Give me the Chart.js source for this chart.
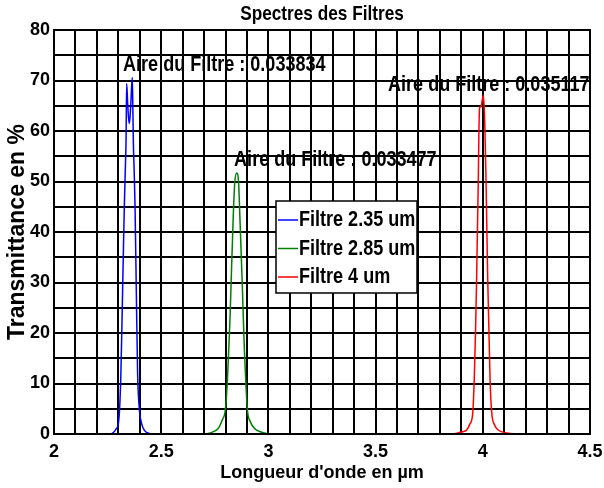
<!DOCTYPE html>
<html><head><meta charset="utf-8">
<script src="https://cdn.jsdelivr.net/npm/chart.js@4"></script>
<style>html,body{margin:0;padding:0;background:#fff}#wrap{width:604px;height:488px}</style>
</head><body><div id="wrap"><canvas id="c" width="604" height="488"></canvas></div>
<script>
const chartTitle = "Spectres des Filtres";
const xTitle = "Longueur d'onde en µm";
const yTitle = "Transmittance en %";
const seriesLabels = ["Filtre 2.35 um", "Filtre 2.85 um", "Filtre 4 um"];
const seriesColors = ["#0000ff", "#008000", "#ff0000"];

const blueX = [2.17, 2.26, 2.277, 2.290, 2.300, 2.306, 2.312, 2.318, 2.324, 2.328, 2.333, 2.336, 2.339, 2.343, 2.347, 2.351, 2.355, 2.359, 2.365, 2.368, 2.370, 2.374, 2.378, 2.384, 2.390, 2.398, 2.409, 2.422, 2.438, 2.46, 4.45];
const blueY = [0, 0, 0.3, 1, 2, 5, 12, 24, 37, 45, 53, 58, 69.4, 66, 63, 61.5, 63, 66, 70.6, 64, 58, 52, 45, 28, 12, 5, 2, 0.7, 0.2, 0, 0];

const greenX = [2.17, 2.70, 2.728, 2.755, 2.771, 2.785, 2.799, 2.808, 2.815, 2.821, 2.826, 2.836, 2.843, 2.852, 2.861, 2.867, 2.878, 2.883, 2.888, 2.895, 2.902, 2.915, 2.938, 2.965, 2.992, 3.02, 4.45];
const greenY = [0, 0, 0.2, 0.7, 1.4, 2.8, 4.75, 10, 16.6, 23, 29.8, 43, 49.7, 51.7, 49.7, 43, 29.8, 23, 16.6, 10, 4.75, 2.5, 1.0, 0.4, 0.1, 0, 0];

const redX = [2.17, 3.86, 3.884, 3.91, 3.925, 3.94, 3.953, 3.960, 3.966, 3.971, 3.979, 3.982, 3.985, 3.988, 3.992, 3.997, 4.002, 4.006, 4.010, 4.015, 4.023, 4.034, 4.042, 4.055, 4.072, 4.10, 4.127, 4.15, 4.45];
const redY = [0, 0, 0.2, 0.5, 0.8, 2, 4.1, 10.7, 20, 30.5, 50.3, 60.2, 64.5, 64.8, 64.8, 66, 67.1, 65, 60.2, 50.3, 30.5, 10.7, 4.1, 1.8, 0.8, 0.3, 0.1, 0, 0];

const annotX = [2.322, 2.84, 3.558];
const annotY = [73.1, 54.2, 69.1];
const annotText = ["Aire du Filtre : 0.033834", "Aire du Filtre : 0.033477", "Aire du Filtre : 0.035117"];

const xMin = 2, xMax = 4.5, xGridStep = 0.1, xLabelStep = 0.5;
const yMin = 0, yMax = 80, yGridStep = 5, yLabelStep = 10;

const FONT = "'Liberation Sans', Arial, sans-serif";
const COND = 0.82;

function pts(xs, ys) { return xs.map((v, i) => ({x: v, y: ys[i]})); }
function isMult(v, step) { const r = v / step; return Math.abs(r - Math.round(r)) < 1e-6; }
function condText(ctx, text, x, y, align) {
  ctx.save(); ctx.translate(x, y); ctx.scale(COND, 1);
  ctx.textAlign = align; ctx.textBaseline = 'middle'; ctx.fillText(text, 0, 0);
  ctx.restore();
}

const overlay = {
  id: 'overlay',
  afterDraw(chart) {
    const {ctx, chartArea: a, scales: {x, y}} = chart;
    ctx.save();
    ctx.strokeStyle = '#000'; ctx.lineWidth = 2;
    ctx.strokeRect(a.left, a.top, a.right - a.left, a.bottom - a.top);
    ctx.fillStyle = '#000';
    ctx.font = "bold 21px " + FONT;
    condText(ctx, chartTitle, (a.left + a.right) / 2, 14, 'center');
    ctx.font = "bold 22px " + FONT;
    annotText.forEach((t, i) => condText(ctx, t, x.getPixelForValue(annotX[i]), y.getPixelForValue(annotY[i]), 'left'));
    // legend
    const L = 276, T = 201, W = 141, H = 92, rowH = 28.5, firstRow = 19;
    ctx.fillStyle = '#fff'; ctx.fillRect(L, T, W, H);
    ctx.strokeStyle = '#000'; ctx.lineWidth = 1.5; ctx.strokeRect(L, T, W, H);
    seriesLabels.forEach((lab, i) => {
      const cy = T + firstRow + i * rowH;
      ctx.strokeStyle = seriesColors[i]; ctx.lineWidth = 1.5;
      ctx.beginPath(); ctx.moveTo(L + 2, cy); ctx.lineTo(L + 22, cy); ctx.stroke();
      ctx.fillStyle = '#000'; ctx.font = "bold 22px " + FONT;
      condText(ctx, lab, L + 23, cy, 'left');
    });
    ctx.restore();
  }
};

new Chart(document.getElementById('c'), {
  type: 'line',
  data: {
    datasets: [
      {label: seriesLabels[0], data: pts(blueX, blueY), borderColor: seriesColors[0], order: 2},
      {label: seriesLabels[1], data: pts(greenX, greenY), borderColor: seriesColors[1], order: 1},
      {label: seriesLabels[2], data: pts(redX, redY), borderColor: seriesColors[2], order: 0}
    ]
  },
  options: {
    responsive: false, animation: false, devicePixelRatio: 1,
    parsing: false,
    datasets: {line: {borderWidth: 1.5, pointRadius: 0, fill: false, cubicInterpolationMode: 'monotone'}},
    layout: {padding: {top: 30, right: 14, left: 0, bottom: 0}},
    plugins: {legend: {display: false}, title: {display: false}, tooltip: {enabled: false}},
    scales: {
      x: {
        type: 'linear', min: xMin, max: xMax, offset: false,
        grid: {color: '#000', lineWidth: 2, drawTicks: false},
        border: {display: true, color: '#000', width: 2},
        ticks: {stepSize: xGridStep, autoSkip: false, maxRotation: 0, padding: 7, color: '#000',
          font: {family: FONT, size: 18, weight: 'bold'},
          callback: v => isMult(v, xLabelStep) ? String(+v.toFixed(1)) : ''},
        title: {display: true, text: xTitle, color: '#000', font: {family: FONT, size: 18, weight: 'bold'}, padding: {top: 0, bottom: 4}},
        afterFit(s) { s.height = 54; s.paddingLeft = 0; s.paddingRight = 0; }
      },
      y: {
        type: 'linear', min: yMin, max: yMax,
        grid: {color: '#000', lineWidth: 2, drawTicks: false},
        border: {display: true, color: '#000', width: 2},
        ticks: {stepSize: yGridStep, autoSkip: false, padding: 4, color: '#000',
          font: {family: FONT, size: 18, weight: 'bold'},
          callback: v => isMult(v, yLabelStep) ? String(Math.round(v)) : ''},
        title: {display: true, text: yTitle, color: '#000', font: {family: FONT, size: 23, weight: 'bold'}, padding: {top: 4, bottom: 0}},
        afterFit(s) { s.width = 54; s.paddingTop = 0; s.paddingBottom = 0; }
      }
    }
  },
  plugins: [overlay]
});
</script>
</body></html>
